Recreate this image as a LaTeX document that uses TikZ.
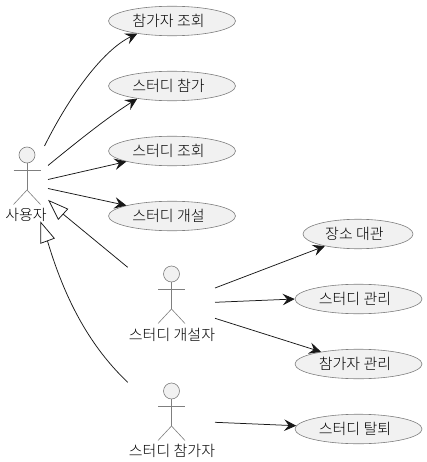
\documentclass[tikz,border=0pt]{standalone}
\usepackage{fontspec}
\setmainfont{Noto Sans CJK KR Light}
\usetikzlibrary{shapes.geometric,arrows.meta}
\definecolor{fillc}{HTML}{F1F1F1}
\definecolor{linec}{HTML}{7F7F7F}
\definecolor{arrowc}{HTML}{181818}
\tikzset{
  usecase/.style={ellipse,draw=linec,fill=fillc,line width=0.6pt,minimum height=29.5pt,inner sep=0pt,font=\fontsize{15}{17}\selectfont,execute at begin node={\kern-7pt}},
  wide/.style={minimum width=127pt},
  narrow/.style={minimum width=110pt},
  actorlabel/.style={inner sep=0pt,font=\fontsize{15}{17}\selectfont},
  limb/.style={draw=linec,line width=0.6pt},
  assoc/.style={draw=arrowc,line width=0.75pt,-{Stealth[length=12pt,width=11.5pt,inset=4.5pt]}},
  gen/.style={draw=arrowc,line width=0.75pt},
  gentip/.style={draw=arrowc,line width=0.75pt,fill=white,line join=miter}
}
\newcommand{\actorfig}[2]{%
  \draw[limb,fill=fillc] (#1,#2) circle (8pt);
  \draw[limb] (#1,#2+8) -- (#1,#2+35);
  \draw[limb] (#1-13.5,#2+15.5) -- (#1+13.5,#2+15.5);
  \draw[limb] (#1-13.5,#2+49.5) -- (#1,#2+35) -- (#1+13.5,#2+49.5);
}
\begin{document}
\begin{tikzpicture}[x=1pt,y=-1pt]
\useasboundingbox (0,0) rectangle (426,462);
\node[usecase,wide] (e1) at (172,21) {참가자 조회};
\node[usecase,wide] (e2) at (172,86) {스터디 참가};
\node[usecase,wide] (e3) at (172,151) {스터디 조회};
\node[usecase,wide] (e4) at (172,216) {스터디 개설};
\node[usecase,narrow] (e5) at (358,234) {장소 대관};
\node[usecase,wide] (e6) at (358.5,299) {스터디 관리};
\node[usecase,wide] (e7) at (358.5,364) {참가자 관리};
\node[usecase,wide] (e8) at (358.5,429) {스터디 탈퇴};
\actorfig{27}{155}
\actorfig{171.5}{274}
\actorfig{171.5}{391}
\node[actorlabel] (la) at (26,215) {사용자};
\node[actorlabel] (lb) at (172,335) {스터디 개설자};
\node[actorlabel] (lc) at (172,451) {스터디 참가자};
\coordinate (a1) at (44.5,146);
\coordinate (a2) at (48,165.5);
\coordinate (a3) at (48,179.5);
\coordinate (a4) at (48,188.5);
\coordinate (b1) at (215,288);
\coordinate (b2) at (215,302.3);
\coordinate (b3) at (215,318.3);
\coordinate (c1) at (215,422.3);
\coordinate (g1) at (127.7,267.3);
\coordinate (g2) at (127.7,382.3);
\coordinate (t1) at (49,200.7);
\coordinate (t2) at (40.7,222.3);
\draw[assoc] (a1) .. controls (70,95) and (103,50) .. (e1.-160.6);
\draw[assoc] (a2) .. controls (78,141) and (108,117) .. (e2.-160.6);
\draw[assoc] (a3) -- (e3.-167.5);
\draw[assoc] (a4) -- (e4.167.4);
\draw[assoc] (b1) -- (e5.-160.5);
\draw[assoc] (b2) -- (e6.west);
\draw[assoc] (b3) -- (e7.162.7);
\draw[assoc] (c1) -- (e8.177);
\draw[gen] (g1) -- (63,214);
\draw[gentip] (t1) -- (67.7,209) -- (58.3,219.3) -- cycle;
\draw[gen] (g2) .. controls (96,352) and (68,310) .. (47.5,241);
\draw[gentip] (t2) -- (54.3,238.3) -- (40.7,243.3) -- cycle;
\end{tikzpicture}
\end{document}
